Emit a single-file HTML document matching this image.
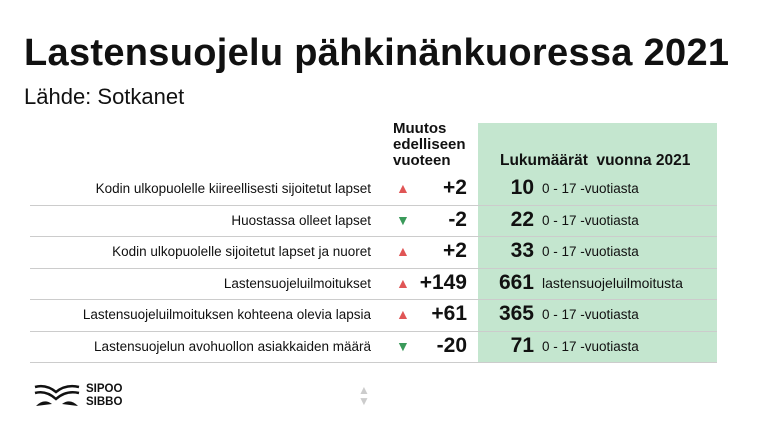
<!DOCTYPE html>
<html><head><meta charset="utf-8"><style>
body{margin:0;width:768px;height:434px;background:#fff;position:relative;overflow:hidden;font-family:"Liberation Sans",sans-serif;color:#111}
.a{position:absolute;white-space:nowrap}
.t{left:24px;top:32px;font-weight:bold;font-size:38px;letter-spacing:0.3px}
.s{left:24px;top:84px;font-size:22px}
.g{left:478px;top:123px;width:239px;height:239px;background:#c4e6cf}
.h{left:393px;top:121px;font-weight:bold;font-size:15px;line-height:16px}
.h2{left:500px;top:152px;font-weight:bold;font-size:15.5px}
.ln{position:absolute;left:30px;width:687px;height:1px;background:#ccc}
.lb{right:397px;font-size:13.5px}
.tr{left:396px;font-size:14px}
.ch{right:301px;font-weight:bold;font-size:21px}
.n{right:234px;font-weight:bold;font-size:21px}
.d{left:542px;font-size:13.5px}
</style></head><body>
<div class="a t">Lastensuojelu pähkinänkuoressa 2021</div>
<div class="a s">Lähde: Sotkanet</div>
<div class="a g"></div>
<div class="a h">Muutos<br>edelliseen<br>vuoteen</div>
<div class="a h2">Lukumäärät&nbsp; vuonna 2021</div>
<div class="ln" style="top:205px"></div>
<div class="ln" style="top:236px"></div>
<div class="ln" style="top:268px"></div>
<div class="ln" style="top:299px"></div>
<div class="ln" style="top:331px"></div>
<div class="ln" style="top:362px"></div>

<div class="a lb" style="top:181px">Kodin ulkopuolelle kiireellisesti sijoitetut lapset</div>
<div class="a tr" style="top:180px;color:#e05555">▲</div>
<div class="a ch" style="top:176px">+2</div>
<div class="a n" style="top:176px">10</div>
<div class="a d" style="top:181px">0 - 17 -vuotiasta</div>

<div class="a lb" style="top:213px">Huostassa olleet lapset</div>
<div class="a tr" style="top:212px;color:#3a9a5a">▼</div>
<div class="a ch" style="top:208px">-2</div>
<div class="a n" style="top:208px">22</div>
<div class="a d" style="top:213px">0 - 17 -vuotiasta</div>

<div class="a lb" style="top:244px">Kodin ulkopuolelle sijoitetut lapset ja nuoret</div>
<div class="a tr" style="top:243px;color:#e05555">▲</div>
<div class="a ch" style="top:239px">+2</div>
<div class="a n" style="top:239px">33</div>
<div class="a d" style="top:244px">0 - 17 -vuotiasta</div>

<div class="a lb" style="top:276px">Lastensuojeluilmoitukset</div>
<div class="a tr" style="top:275px;color:#e05555">▲</div>
<div class="a ch" style="top:271px">+149</div>
<div class="a n" style="top:271px">661</div>
<div class="a d" style="top:275px;font-size:14px">lastensuojeluilmoitusta</div>

<div class="a lb" style="top:307px">Lastensuojeluilmoituksen kohteena olevia lapsia</div>
<div class="a tr" style="top:306px;color:#e05555">▲</div>
<div class="a ch" style="top:302px">+61</div>
<div class="a n" style="top:302px">365</div>
<div class="a d" style="top:307px">0 - 17 -vuotiasta</div>

<div class="a lb" style="top:339px">Lastensuojelun avohuollon asiakkaiden määrä</div>
<div class="a tr" style="top:338px;color:#3a9a5a">▼</div>
<div class="a ch" style="top:334px">-20</div>
<div class="a n" style="top:334px">71</div>
<div class="a d" style="top:339px">0 - 17 -vuotiasta</div>

<svg class="a" style="left:34px;top:384px" width="46" height="24" viewBox="0 0 46 24">
<path d="M1 3 Q12 0 22 8 Q32 0 45 3" stroke="#111" stroke-width="2.5" fill="none"/>
<path d="M1 9 Q12 6 22 15 Q32 6 45 9" stroke="#111" stroke-width="2.5" fill="none"/>
<path d="M2 22 Q10 14 18 20 Z" fill="#111"/><path d="M44 22 Q36 14 28 20 Z" fill="#111"/>
</svg>
<div class="a" style="left:86px;top:383px;font-weight:bold;font-size:11.5px;line-height:13px">SIPOO<br>SIBBO</div>
<div class="a" style="left:358px;top:385px;font-size:12px;line-height:11px;color:#ccc">▲<br>▼</div>
</body></html>
